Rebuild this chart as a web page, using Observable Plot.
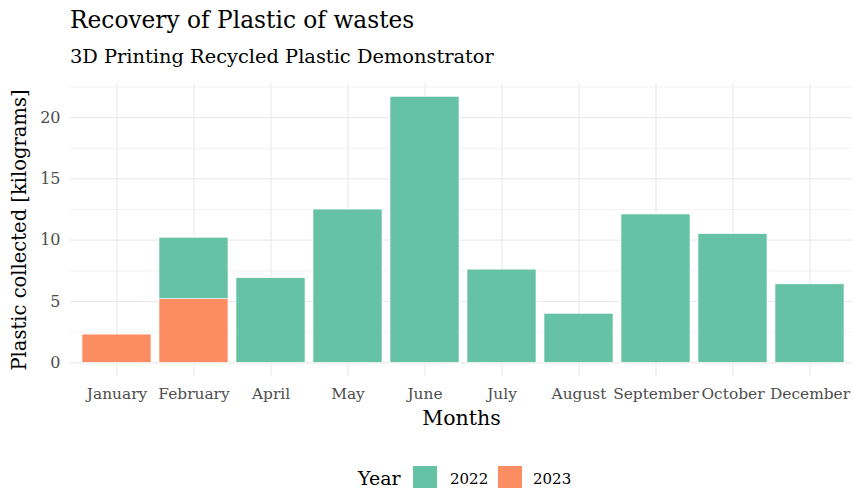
<!DOCTYPE html>
<html>
<head>
<meta charset="utf-8">
<script src="https://cdn.jsdelivr.net/npm/d3@7"></script>
<script src="https://cdn.jsdelivr.net/npm/@observablehq/plot@0.6"></script>
<style>
  html, body { margin: 0; padding: 0; background: #fff; }
  #wrap { position: relative; width: 853px; height: 488px; overflow: hidden; font-family: "DejaVu Serif", serif; }
  .t { position: absolute; white-space: nowrap; line-height: 1; color: #000; }
  #plot { position: absolute; left: 0; top: 75px; }
  .sw { position: absolute; width: 24px; height: 24px; }
</style>
</head>
<body>
<div id="wrap">
  <div class="t" id="title" style="left:70px; top:8px; font-size:23.3px;">Recovery of Plastic of wastes</div>
  <div class="t" id="subtitle" style="left:70px; top:47px; font-size:19.4px;">3D Printing Recycled Plastic Demonstrator</div>
  <div id="plot"></div>
  <div class="t" style="left:358px; top:469px; font-size:19px;">Year</div>
  <div class="sw" style="left:413px; top:466px; background:#66C2A5;"></div>
  <div class="t" style="left:450px; top:472px; font-size:15px;">2022</div>
  <div class="sw" style="left:498px; top:466px; background:#FC8D62;"></div>
  <div class="t" style="left:533px; top:472px; font-size:15px;">2023</div>
</div>
<script>
const months = ["January","February","April","May","June","July","August","September","October","December"];
const years = ["2022","2023"];
const kg2022 = [null, 5.0, 6.9, 12.5, 21.7, 7.6, 4.0, 12.1, 10.5, 6.4];
const kg2023 = [2.3, 5.2, null, null, null, null, null, null, null, null];
const yTicks = [0, 5, 10, 15, 20];
const yMinor = [2.5, 7.5, 12.5, 17.5, 22.5];

const colors = {"2022": "#66C2A5", "2023": "#FC8D62"};

const rows = [];
months.forEach((m, i) => {
  if (kg2023[i] != null) rows.push({month: m, year: "2023", kg: kg2023[i]});
  if (kg2022[i] != null) rows.push({month: m, year: "2022", kg: kg2022[i]});
});

const W = 853, H = 355;
const step = (811 - 116) / 9;
const chart = Plot.plot({
  width: W,
  height: H,
  marginTop: 8,
  marginBottom: 54,
  marginLeft: 70,
  marginRight: 1,
  style: {fontFamily: "DejaVu Serif, serif", fontSize: "15.4px", background: "#fff", overflow: "visible"},
  x: {type: "band", domain: months, range: [116 - 0.6 * step, 811 + 0.6 * step], paddingInner: 0.1, paddingOuter: 0.15},
  y: {domain: [-1.085, 22.785], range: [300.6, 8]},
  color: {domain: years, range: [colors["2022"], colors["2023"]]},
  marks: [
    Plot.ruleY(yMinor, {stroke: "#EBEBEB", strokeWidth: 0.6}),
    Plot.ruleY(yTicks, {stroke: "#EBEBEB", strokeWidth: 1.2}),
    Plot.ruleX(months, {stroke: "#EBEBEB", strokeWidth: 1.2}),
    Plot.barY(rows, Plot.stackY({x: "month", y: "kg", fill: "year", z: "year", order: ["2023", "2022"], stroke: "#fff", strokeWidth: 0.6, inset: 0})),
    Plot.axisY(yTicks, {tickSize: 0, tickPadding: 10, fill: "#4D4D4D", fontSize: 16,
      label: "Plastic collected [kilograms]", labelAnchor: "center", labelArrow: "none", labelOffset: 58}),
    Plot.axisX({tickSize: 0, tickPadding: 12, fill: "#4D4D4D", fontSize: 15.4,
      label: "Months", labelAnchor: "center", labelArrow: "none", labelOffset: 48})
  ]
});
document.getElementById("plot").appendChild(chart);
chart.querySelectorAll("g[aria-label='y-axis label'] text").forEach(t => {
  t.setAttribute("fill", "#000");
  t.setAttribute("font-size", "19.5px");
});
chart.querySelectorAll("g[aria-label='x-axis label'] text").forEach(t => {
  t.setAttribute("fill", "#000");
  t.setAttribute("font-size", "20.5px");
});
</script>
</body>
</html>
